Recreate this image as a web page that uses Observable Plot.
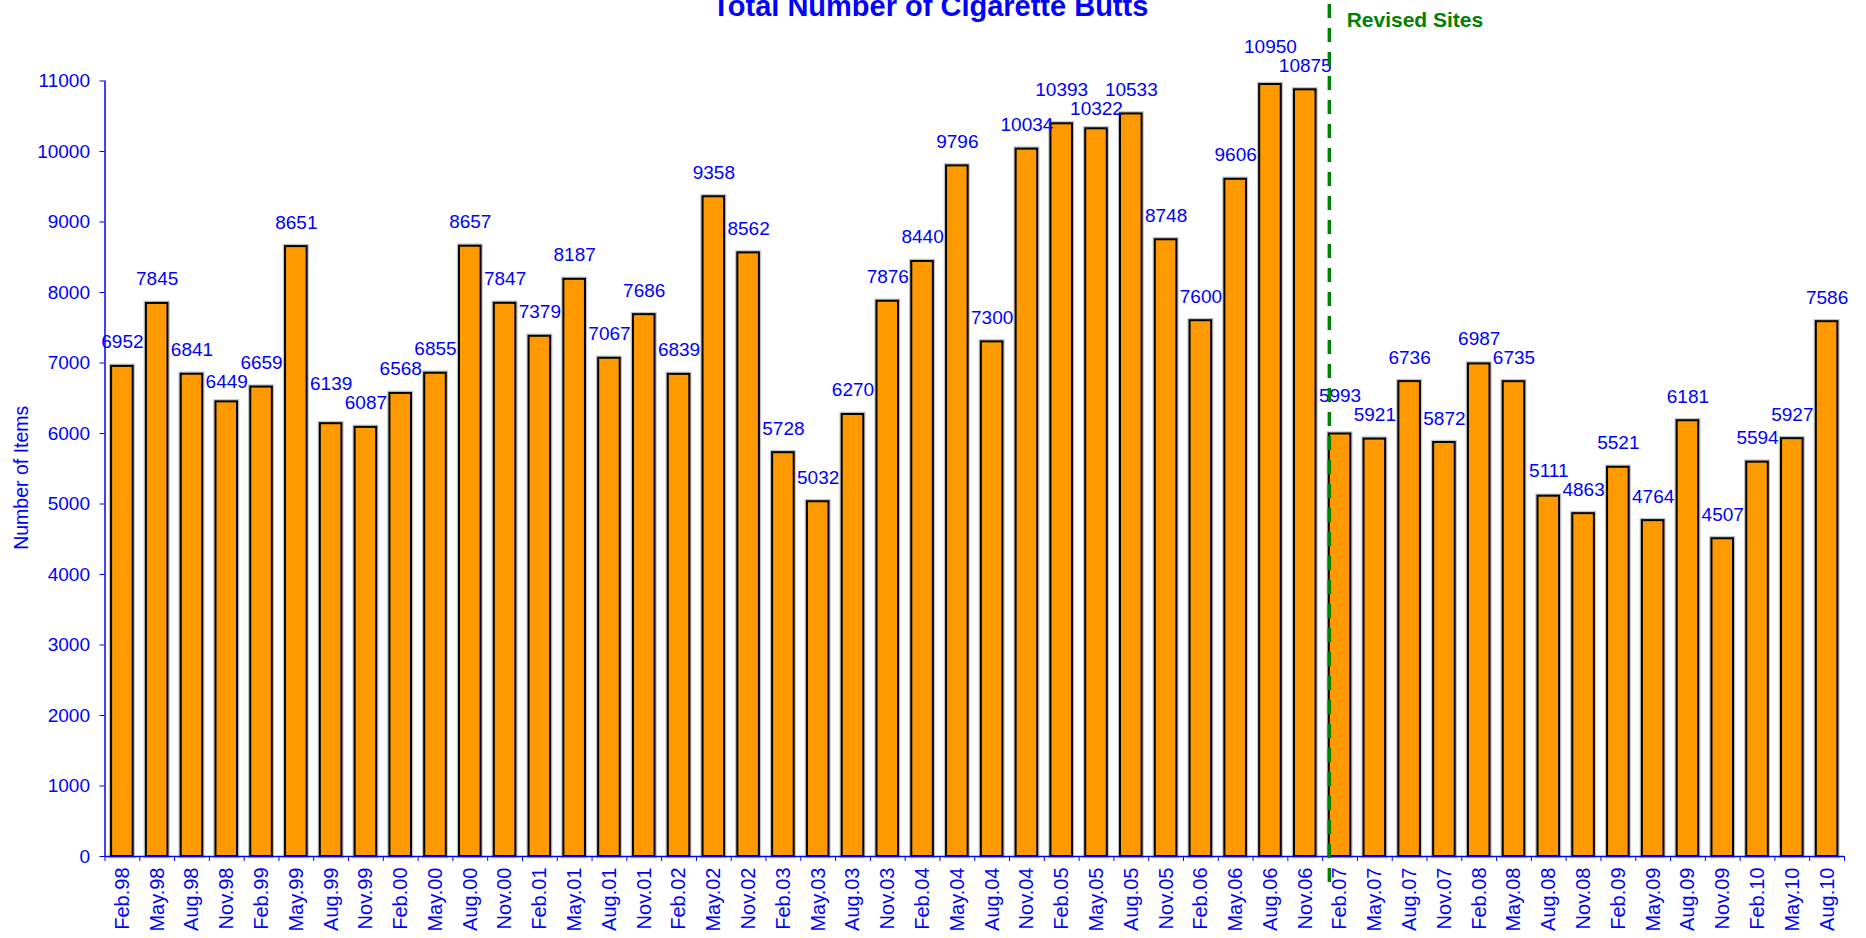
<!DOCTYPE html>
<html>
<head>
<meta charset="utf-8">
<script src="https://cdn.jsdelivr.net/npm/d3@7"></script>
<script src="https://cdn.jsdelivr.net/npm/@observablehq/plot@0.6"></script>
<style>
  html, body { margin: 0; padding: 0; background: white; overflow: hidden; }
</style>
</head>
<body>
<div id="chart"></div>
<script>
const categories = [
  "Feb.98","May.98","Aug.98","Nov.98",
  "Feb.99","May.99","Aug.99","Nov.99",
  "Feb.00","May.00","Aug.00","Nov.00",
  "Feb.01","May.01","Aug.01","Nov.01",
  "Feb.02","May.02","Nov.02",
  "Feb.03","May.03","Aug.03","Nov.03",
  "Feb.04","May.04","Aug.04","Nov.04",
  "Feb.05","May.05","Aug.05","Nov.05",
  "Feb.06","May.06","Aug.06","Nov.06",
  "Feb.07","May.07","Aug.07","Nov.07",
  "Feb.08","May.08","Aug.08","Nov.08",
  "Feb.09","May.09","Aug.09","Nov.09",
  "Feb.10","May.10","Aug.10"
];
const values = [
  6952, 7845, 6841, 6449,
  6659, 8651, 6139, 6087,
  6568, 6855, 8657, 7847,
  7379, 8187, 7067, 7686,
  6839, 9358, 8562,
  5728, 5032, 6270, 7876,
  8440, 9796, 7300, 10034,
  10393, 10322, 10533, 8748,
  7600, 9606, 10950, 10875,
  5993, 5921, 6736, 5872,
  6987, 6735, 5111, 4863,
  5521, 4764, 6181, 4507,
  5594, 5927, 7586
];
const yTicks = [0, 1000, 2000, 3000, 4000, 5000, 6000, 7000, 8000, 9000, 10000, 11000];
const title = "Total Number of Cigarette Butts";
const yTitle = "Number of Items";
const revisedLabel = "Revised Sites";
const revisedAt = "Feb.07";

const W = 1866, H = 938;
const mL = 104.5, mR = 22, mT = 80.5, mB = 82;
const yMax = 11000;
const step = (W - mL - mR) / categories.length;
const pxPerUnit = (H - mT - mB) / yMax;
const blue = "#0000FF";
const green = "#008000";

// Label placement (like spreadsheet auto-layout): default 18px above the bar,
// adjacent labels (which always overlap horizontally) are separated vertically.
const gap = 18, sep = 19, minGap = 8;
const topPx = values.map(v => (yMax - v) * pxPerUnit);   // bar top, relative to frame top
const base = topPx.map(t => t - gap);
for (let i = values.length - 2; i >= 0; i--) {
  const b = base[i], r = base[i + 1];
  if (Math.abs(b - r) < sep) {
    const up = r - sep, down = r + sep;
    const downOk = down <= topPx[i] - minGap;
    base[i] = (downOk && Math.abs(down - b) < Math.abs(up - b)) ? down : up;
  }
}
const data = categories.map((c, i) => ({
  cat: c,
  value: values[i],
  labelY: yMax - base[i] / pxPerUnit
}));

const chart = Plot.plot({
  width: W,
  height: H,
  marginLeft: mL,
  marginRight: mR,
  marginTop: mT,
  marginBottom: mB,
  style: {fontFamily: "'Liberation Sans', Arial, sans-serif", color: blue, background: "white"},
  x: {domain: categories, paddingInner: 0.38, paddingOuter: 0.19},
  y: {domain: [0, yMax]},
  marks: [
    Plot.barY(data, {x: "cat", y: "value", fill: "none", stroke: "#c4c4c4", strokeWidth: 4.5}),
    Plot.barY(data, {x: "cat", y: "value", fill: "#FF9900", stroke: "black", strokeWidth: 2}),
    Plot.ruleY([0], {stroke: blue, strokeWidth: 1.5}),
    Plot.ruleX([categories[0]], {dx: -step / 2, stroke: blue, strokeWidth: 1.5}),
    Plot.axisY({ticks: yTicks, tickSize: 5, tickPadding: 10, tickFormat: "d", fontSize: 19, label: null, stroke: blue}),
    Plot.axisX({tickSize: 0, tickPadding: 11, tickRotate: -90, fontSize: 20, label: null}),
    Plot.axisX({tickSize: 5, tickFormat: () => "", dx: -step / 2, label: null, stroke: blue}),
    Plot.axisX({ticks: [categories[categories.length - 1]], tickSize: 5, tickFormat: () => "", dx: step / 2, label: null, stroke: blue}),
    Plot.text(data, {x: "cat", y: "labelY", text: d => String(d.value), lineAnchor: "bottom", fontSize: 19, fill: blue}),
    Plot.ruleX([revisedAt], {dx: -10.7, stroke: green, strokeWidth: 3.5, strokeDasharray: "14,10", insetTop: -76.5, insetBottom: -34}),
    Plot.text([revisedLabel], {x: () => revisedAt, frameAnchor: "top", textAnchor: "start", lineAnchor: "bottom", dx: 6.6, dy: -53.8, fontSize: 21, fontWeight: "bold", fill: green}),
    Plot.text([title], {frameAnchor: "top", lineAnchor: "bottom", dx: -44.5, dy: -65.5, fontSize: 29, fontWeight: "bold", fill: blue}),
    Plot.text([yTitle], {frameAnchor: "left", textAnchor: "middle", rotate: -90, dx: -83, dy: 9, fontSize: 19.5, fill: blue})
  ]
});
document.getElementById("chart").appendChild(chart);
</script>
</body>
</html>
